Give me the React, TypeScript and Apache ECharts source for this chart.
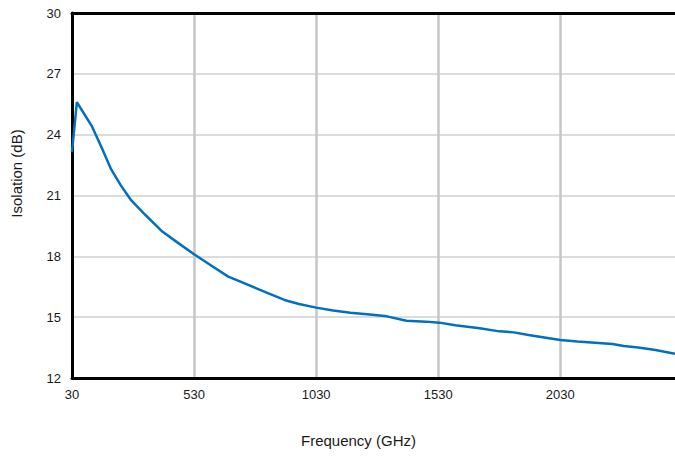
import React, { useEffect, useRef } from "react";
import * as echarts from "echarts";

const freqGHz = [30, 50, 110, 150, 190, 230, 270, 330, 400, 460, 530, 600, 670, 720, 800, 900, 960, 1030, 1100, 1170, 1250, 1320, 1400, 1480, 1535, 1600, 1700, 1780, 1840, 1900, 2030, 2100, 2244, 2290, 2350, 2420, 2500];
const isolationDb = [23.15, 25.6, 24.45, 23.4, 22.3, 21.5, 20.8, 20.05, 19.22, 18.7, 18.1, 17.55, 17.0, 16.75, 16.35, 15.85, 15.65, 15.47, 15.33, 15.22, 15.13, 15.04, 14.82, 14.78, 14.73, 14.6, 14.45, 14.3, 14.25, 14.12, 13.87, 13.8, 13.68, 13.58, 13.5, 13.38, 13.2];

const xMin = 30;
const xMax = 2500;
const xStep = 500;
const yMin = 12;
const yMax = 30;
const yStep = 3;

export default function App() {
  const ref = useRef<HTMLDivElement>(null);
  useEffect(() => {
    document.body.style.margin = "0";
    const chart = echarts.init(ref.current!, null, { renderer: "svg" });
    const font = "'Liberation Sans', Arial, sans-serif";
    chart.setOption({
      animation: false,
      backgroundColor: "#ffffff",
      grid: { left: 72, right: 0, top: 13, bottom: 78, containLabel: false },
      xAxis: [
        {
          type: "value",
          min: xMin,
          max: xMax,
          interval: xStep,
          name: "Frequency (GHz)",
          nameLocation: "middle",
          nameGap: 55,
          nameTextStyle: { fontSize: 15, color: "#1a1a1a", fontFamily: font, padding: [0, 30, 0, 0] },
          axisLine: { show: true, lineStyle: { color: "#000", width: 3 } },
          axisTick: { show: false },
          axisLabel: {
            fontSize: 13,
            color: "#1a1a1a",
            fontFamily: font,
            margin: 10,
            showMaxLabel: false,
            showMinLabel: true,
            formatter: (v: number) => String(v),
          },
          splitLine: { show: true, showMaxLine: false, lineStyle: { color: "#c6c6c6", width: 2.5 } },
        },
        {
          type: "value",
          position: "top",
          min: xMin,
          max: xMax,
          axisLine: { show: true, lineStyle: { color: "#000", width: 3 } },
          axisTick: { show: false },
          axisLabel: { show: false },
          splitLine: { show: false },
        },
      ],
      yAxis: {
        type: "value",
        min: yMin,
        max: yMax,
        interval: yStep,
        name: "Isolation (dB)",
        nameLocation: "middle",
        nameGap: 48,
        nameTextStyle: { fontSize: 15, color: "#1a1a1a", fontFamily: font, padding: [0, 0, 0, 44] },
        axisLine: { show: true, lineStyle: { color: "#000", width: 3 } },
        axisTick: { show: false },
        axisLabel: { fontSize: 13, color: "#1a1a1a", fontFamily: font, margin: 11 },
        splitLine: { show: true, lineStyle: { color: "#dcdcdc", width: 2 } },
      },
      series: [
        {
          type: "line",
          xAxisIndex: 0,
          data: freqGHz.map((f, i) => [f, isolationDb[i]]),
          showSymbol: false,
          lineStyle: { color: "#0070c0", width: 2.5 },
          z: 5,
        },
      ],
    });
    return () => chart.dispose();
  }, []);
  return <div ref={ref} style={{ width: 675, height: 456 }} />;
}
